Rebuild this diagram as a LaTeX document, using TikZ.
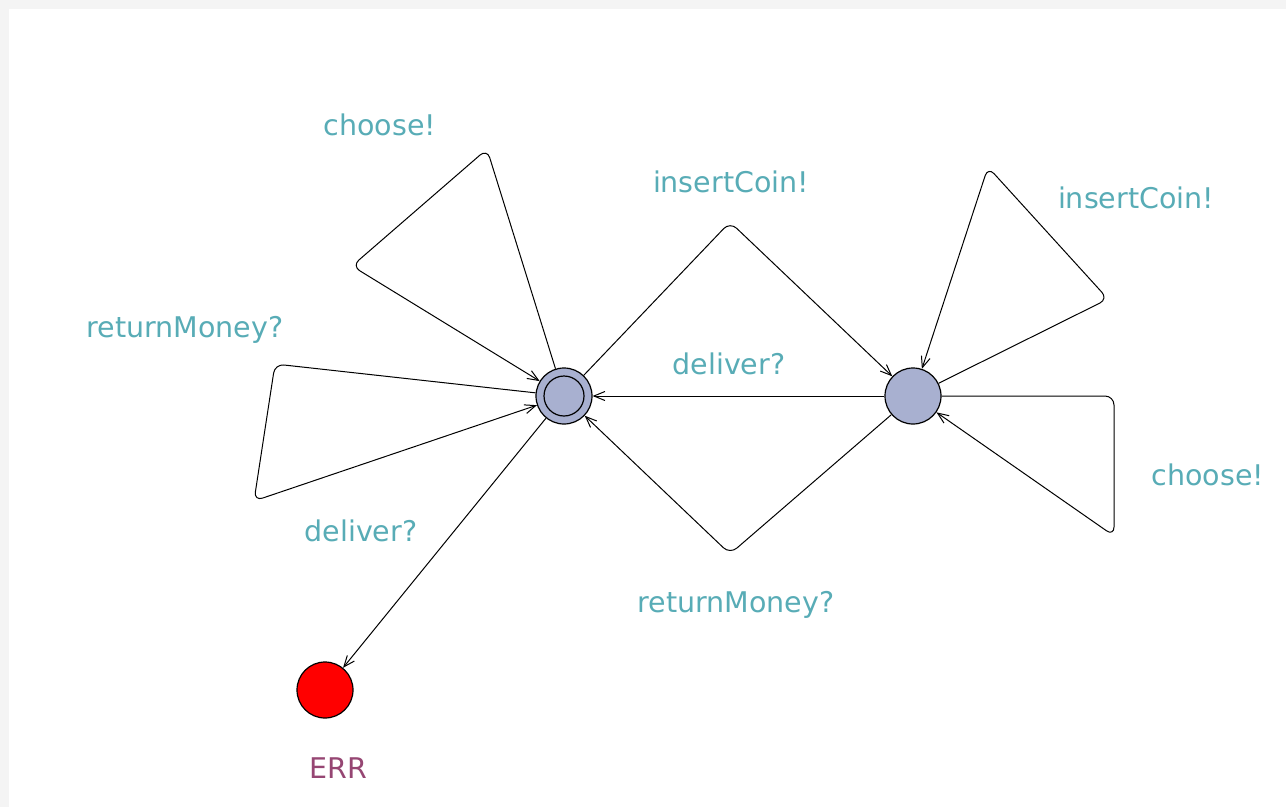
\documentclass[tikz,border=0pt]{standalone}
\usepackage{fontspec}
\setmainfont{DejaVu Sans}
\usetikzlibrary{arrows.meta}
\definecolor{framegray}{RGB}{244,244,244}
\definecolor{statefill}{RGB}{168,176,208}
\definecolor{synccol}{RGB}{88,172,182}
\definecolor{namecol}{RGB}{150,70,115}
\tikzset{
  state/.style={circle, draw=black, line width=1.2pt, fill=statefill, minimum size=56pt, inner sep=0pt},
  errstate/.style={circle, draw=black, line width=1.2pt, fill=red, minimum size=56pt, inner sep=0pt},
  edge/.style={draw=black, line width=1pt, rounded corners=9pt, -{Straight Barb[length=11pt,width=9pt]}},
  sync/.style={text=synccol, font=\fontsize{28.5}{31}\selectfont, anchor=base, inner sep=0pt},
  locname/.style={text=namecol, font=\fontsize{28.5}{31}\selectfont, anchor=base, inner sep=0pt}
}
\begin{document}
\begin{tikzpicture}[x=1pt, y=-1pt]
  % canvas with its grey frame on top and left
  \fill[framegray] (0,0) rectangle (1286,807);
  \fill[white] (9,9) rectangle (1286,807);
  \useasboundingbox (0,0) rectangle (1286,807);

  % locations
  \node[state] (s0) at (564,396) {};
  \node[circle, draw=black, line width=1.2pt, minimum size=40pt, inner sep=0pt] (s0in) at (s0) {};
  \node[state] (s1) at (913,396) {};
  \node[errstate] (err) at (325,690) {};
  \node[locname] (errname) at (338,778) {ERR};

  % bend points
  \coordinate (ca) at (487,149);
  \coordinate (cb) at (352,266);
  \coordinate (cc) at (275,364);
  \coordinate (cd) at (254,501);
  \coordinate (ce) at (730,222);
  \coordinate (cf) at (730,554);
  \coordinate (cg) at (1108,299);
  \coordinate (ch) at (988,167);
  \coordinate (ci) at (1114,396);
  \coordinate (cj) at (1114,536);

  % transitions
  \draw[edge] (s0) -- (ca) -- (cb) -- (s0);
  \draw[edge] (s0) -- (cc) -- (cd) -- (s0);
  \draw[edge] (s0) -- (ce) -- (s1);
  \draw[edge] (s1) -- (s0);
  \draw[edge] (s1) -- (cf) -- (s0);
  \draw[edge] (s1) -- (cg) -- (ch) -- (s1);
  \draw[edge] (s1) -- (ci) -- (cj) -- (s1);
  \draw[edge] (s0) -- (err);

  % synchronisation labels
  \node[sync] (l1) at (380,135) {choose!};
  \node[sync] (l2) at (731,192) {insertCoin!};
  \node[sync] (l3) at (1136,208) {insertCoin!};
  \node[sync] (l4) at (185,337) {returnMoney?};
  \node[sync] (l5) at (729,374) {deliver?};
  \node[sync] (l6) at (1208,485) {choose!};
  \node[sync] (l7) at (361,541) {deliver?};
  \node[sync] (l8) at (736,612) {returnMoney?};
\end{tikzpicture}
\end{document}
